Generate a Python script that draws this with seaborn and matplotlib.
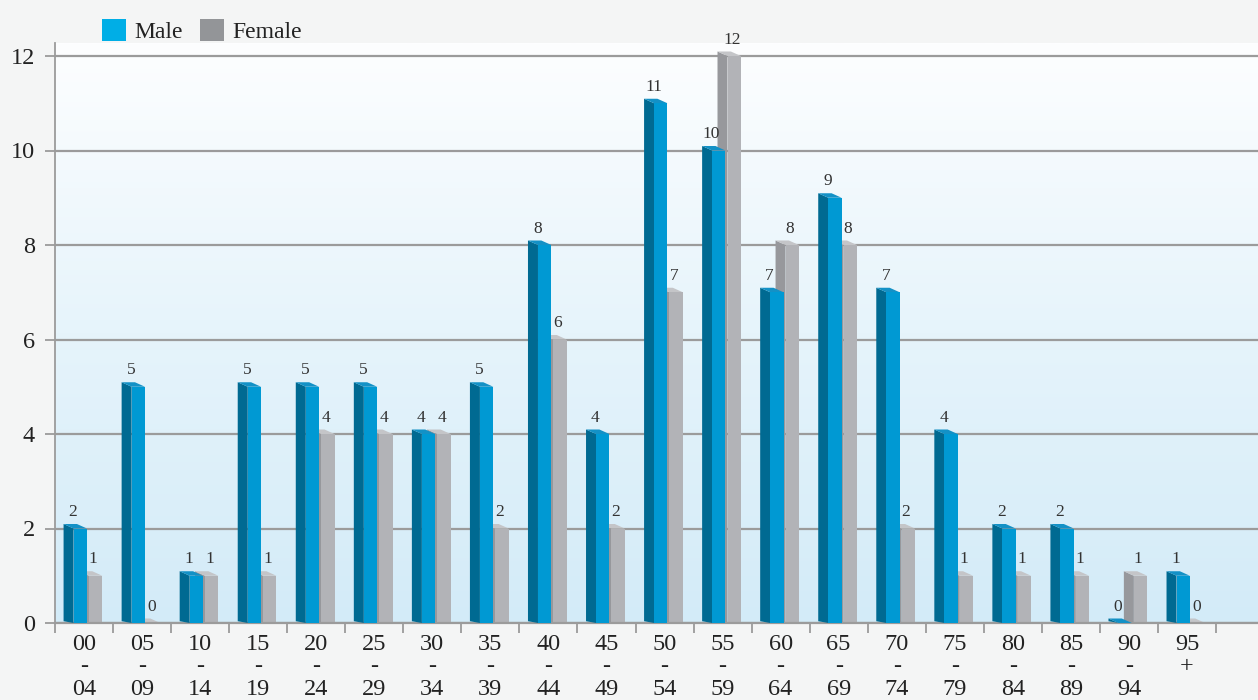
import numpy as np
import pandas as pd
import matplotlib
matplotlib.use("Agg")
import matplotlib.pyplot as plt
import seaborn as sns
from matplotlib.patches import Polygon, Patch
from matplotlib.colors import LinearSegmentedColormap

# ---------------- data ----------------
age_groups = ["00\n-\n04", "05\n-\n09", "10\n-\n14", "15\n-\n19", "20\n-\n24",
              "25\n-\n29", "30\n-\n34", "35\n-\n39", "40\n-\n44", "45\n-\n49",
              "50\n-\n54", "55\n-\n59", "60\n-\n64", "65\n-\n69", "70\n-\n74",
              "75\n-\n79", "80\n-\n84", "85\n-\n89", "90\n-\n94", "95\n+"]
male = [2, 5, 1, 5, 5, 5, 4, 5, 8, 4, 11, 10, 7, 9, 7, 4, 2, 2, 0, 1]
female = [1, 0, 1, 1, 4, 4, 4, 2, 6, 2, 7, 12, 8, 8, 2, 1, 1, 1, 1, 0]
series = ["Male", "Female"]
y_ticks = [0, 2, 4, 6, 8, 10, 12]

# ---------------- style ----------------
front_c = {"Male": "#0099d3", "Female": "#b2b3b7"}
side_c = {"Male": "#006a92", "Female": "#97989c"}
top_c = {"Male": "#1391c6", "Female": "#c4c5c8"}
legend_c = {"Male": "#00aee6", "Female": "#939598"}
grid_c = "#9b9b9b"

sns.set_theme(style="white")
plt.rcParams["font.family"] = ["Liberation Serif", "DejaVu Serif"]

W, H = 1258, 700
fig = plt.figure(figsize=(W / 100, H / 100), dpi=100, facecolor="#f4f5f5")
ax = fig.add_axes([55 / W, 77 / H, 1 - 55 / W, 580 / H])

df = pd.DataFrame({
    "age": age_groups * 2,
    "count": male + female,
    "sex": ["Male"] * len(male) + ["Female"] * len(female),
})

sns.barplot(data=df, x="age", y="count", hue="sex", hue_order=series,
            palette=[front_c[s] for s in series], width=0.46, dodge=True,
            saturation=1, legend=False, edgecolor="none", linewidth=0, ax=ax)

# gradient background
cmap = LinearSegmentedColormap.from_list("bg", ["#d3ebf8", "#e6f4fb", "#fdfeff"])
grad = np.linspace(0, 1, 256).reshape(-1, 1)
ax.imshow(grad, extent=[0, 1, 0, 1], transform=ax.transAxes, aspect="auto",
          cmap=cmap, origin="lower", zorder=0)

xmax = -0.5 + (W - 55) / 58.05
ymax = 12 + 13 / 47.25
ax.set_xlim(-0.5, xmax)
ax.set_ylim(0, ymax)

# pseudo-3D faces derived from seaborn's bars
px_x = 1 / 58.05
px_y = 12 / 567
d = 10 * px_x
r = 4.5 * px_y
shift = {"Male": 0.05, "Female": 0.085}
zbase = {"Male": 3, "Female": 2}
for s, cont in zip(series, ax.containers):
    z = zbase[s]
    for bar in cont:
        bar.set_x(bar.get_x() + shift[s])
        bar.set_zorder(z + 0.2)
        x0, w, h = bar.get_x(), bar.get_width(), bar.get_height()
        ax.add_patch(Polygon([(x0 - d, r * 0.4), (x0 - d, h + r), (x0, h), (x0, 0)],
                             closed=True, facecolor=side_c[s], edgecolor="none", zorder=z))
        ax.add_patch(Polygon([(x0, h), (x0 - d, h + r), (x0 - d + w, h + r), (x0 + w, h)],
                             closed=True, facecolor=top_c[s], edgecolor="none", zorder=z + 0.1))

# value labels
for i, (m, f) in enumerate(zip(male, female)):
    ax.annotate(str(m), (i - 0.19, m), xytext=(0, 6), textcoords="offset points",
                ha="center", va="bottom", fontsize=12.5, color="#333333", zorder=5)
    ax.annotate(str(f), (i + 0.16, f), xytext=(0, 6), textcoords="offset points",
                ha="center", va="bottom", fontsize=12.5, color="#333333", zorder=5)

# axes, grid, ticks
ax.set_axisbelow(True)
ax.set_yticks(y_ticks)
ax.yaxis.grid(True, color=grid_c, linewidth=1.6)
ax.xaxis.grid(False)
for sp in ["top", "right"]:
    ax.spines[sp].set_visible(False)
ax.spines["left"].set_color(grid_c)
ax.spines["left"].set_linewidth(1.3)
ax.spines["bottom"].set_color(grid_c)
ax.spines["bottom"].set_linewidth(1.6)
ax.set_xlabel("")
ax.set_ylabel("")

ax.tick_params(axis="y", left=True, length=7.5, width=1.3, color=grid_c,
               labelsize=17.5, pad=7, labelcolor="#222222")
ax.set_xticks(range(len(age_groups)))
ax.set_xticklabels(age_groups)
ax.set_xticks(np.arange(-0.5, len(age_groups) + 0.5, 1), minor=True)
ax.tick_params(axis="x", which="major", bottom=True, length=0, labelsize=17.5,
               pad=8, labelcolor="#222222")
ax.tick_params(axis="x", which="minor", bottom=True, length=7.5, width=1.3, color=grid_c)
for t in ax.get_xticklabels():
    t.set_linespacing(1.08)

# legend
handles = [Patch(facecolor=legend_c[s], edgecolor="none", label=s) for s in series]
fig.legend(handles=handles, loc="upper left", bbox_to_anchor=(102 / W, 1 - 19 / H),
           ncol=2, frameon=False, fontsize=17, handlelength=1.0, handleheight=1.08,
           handletextpad=0.38, columnspacing=0.72, borderpad=0, borderaxespad=0,
           labelcolor="#222222")

fig.savefig("out.png", dpi=100, facecolor=fig.get_facecolor())
